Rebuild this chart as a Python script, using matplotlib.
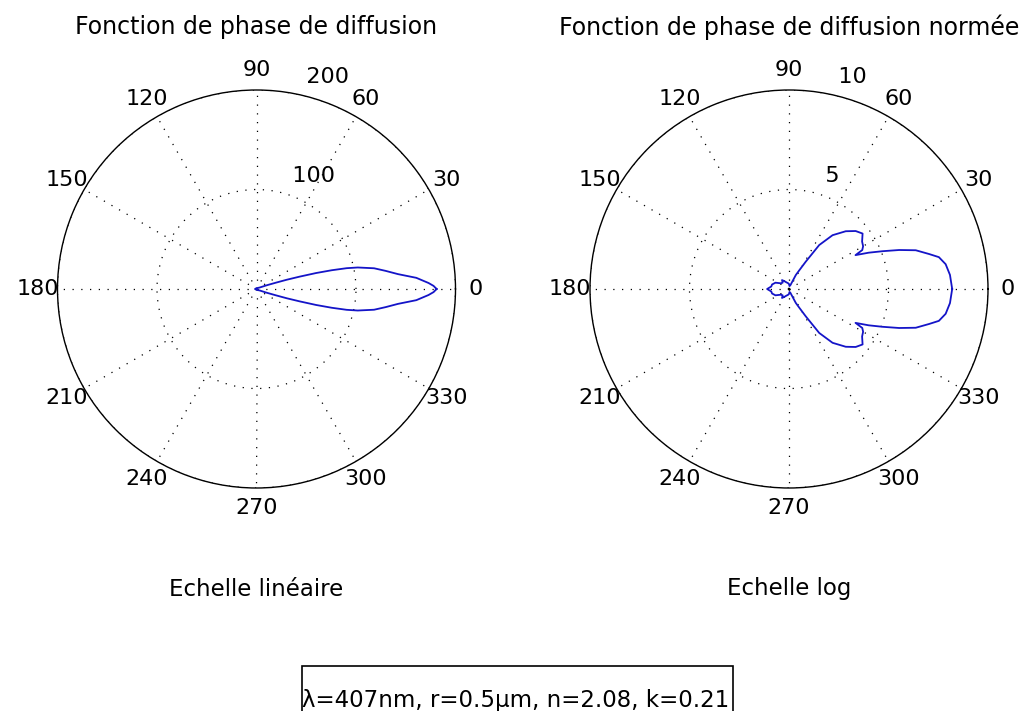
import numpy as np
import matplotlib
matplotlib.use("Agg")
import matplotlib.pyplot as plt
from matplotlib.patches import Rectangle

# phase function, linear scale (angles in degrees, 0..180, mirrored for 180..360)
lin_angles = [0, 1, 2, 4, 6, 8, 10, 12, 13, 14, 15, 16, 17, 18, 20, 22, 25,
              30, 40, 50, 60, 70, 80, 90, 100, 120, 140, 160, 180]
lin_values = [181, 178, 173, 161, 143, 131, 120, 104, 93, 78, 62, 45, 32, 21, 11, 6, 3.5,
              2.5, 1.8, 1.2, 0.8, 0.5, 0.3, 0.3, 0.4, 0.6, 0.8, 1.0, 1.5]

# normalised phase function, log scale
log_angles = [0, 5, 9, 12, 14, 17, 19.5, 22, 24.5, 27, 28, 30, 33, 37, 41, 45.5,
              51, 55.5, 58.5, 61, 64, 66, 70, 80, 90, 100, 110, 120, 128, 135,
              145, 155, 165, 172, 180]
log_values = [8.2, 8.12, 7.97, 7.7, 7.26, 6.66, 5.87, 5.07, 4.4, 3.75, 4.17, 4.3, 4.38,
              4.63, 4.44, 4.07, 3.48, 2.68, 1.61, 1.1, 0.78, 0.4, 0.2, 0.15, 0.25,
              0.3, 0.35, 0.45, 0.57, 0.45, 0.5, 0.75, 0.88, 0.9, 1.1]

angle_ticks = list(range(0, 360, 30))
info_text = "\u03bb=407nm, r=0.5\u03bcm, n=2.08, k=0.21"

W, H = 1023, 711
fig = plt.figure(figsize=(W / 100, H / 100), dpi=100)
FS = 16
FS_TXT = 16.5
FS_TITLE = 17


def full_curve(angles, values):
    a = np.array(angles, dtype=float)
    v = np.array(values, dtype=float)
    a_full = np.concatenate([a, 360 - a[::-1][1:]])
    v_full = np.concatenate([v, v[::-1][1:]])
    return np.radians(a_full), v_full


def polar_panel(cx, cy, rad, angles, values, rmax, rings, title, xlabel):
    ax = fig.add_axes([(cx - rad) / W, 1 - (cy + rad) / H, 2 * rad / W, 2 * rad / H],
                      projection="polar")
    ax.set_ylim(0, rmax)
    ax.set_yticks(rings)
    ax.set_yticklabels([])
    ax.set_xticks(np.radians(angle_ticks))
    ax.set_xticklabels([])
    ax.grid(True, color="k", linestyle=(0, (1, 6)), linewidth=0.9)
    ax.spines["polar"].set_color("k")
    ax.spines["polar"].set_linewidth(1.0)
    th, r = full_curve(angles, values)
    ax.plot(th, r, color="#1414c8", linewidth=1.3)
    for a in angle_ticks:
        ax.text(np.radians(a), 1.1 * rmax, str(a), ha="center", va="center", fontsize=FS)
    rinc = rings[0]
    for rr in rings:
        ax.text(np.radians(82), rr + rinc / 20, "   %g" % rr, ha="left", va="bottom",
                fontsize=FS)
    fig.text(cx / W, 1 - 27 / H, title, ha="center", va="center", fontsize=FS_TITLE)
    fig.text(cx / W, 1 - 589 / H, xlabel, ha="center", va="center", fontsize=FS_TXT)
    return ax


polar_panel(256.5, 289, 199, lin_angles, lin_values, 200, [100, 200],
            "Fonction de phase de diffusion", "Echelle lin\u00e9aire")
polar_panel(789, 289, 199, log_angles, log_values, 10, [5, 10],
            "Fonction de phase de diffusion norm\u00e9e", "Echelle log")

# box around the parameters
fig.patches.append(Rectangle((302 / W, 1 - 716 / H), 431 / W, 50 / H, fill=False,
                             edgecolor="k", linewidth=1.2, transform=fig.transFigure))
fig.text(516 / W, 1 - 700 / H, info_text, ha="center", va="center", fontsize=FS_TXT)

fig.savefig("out.png", dpi=100, facecolor="white")
